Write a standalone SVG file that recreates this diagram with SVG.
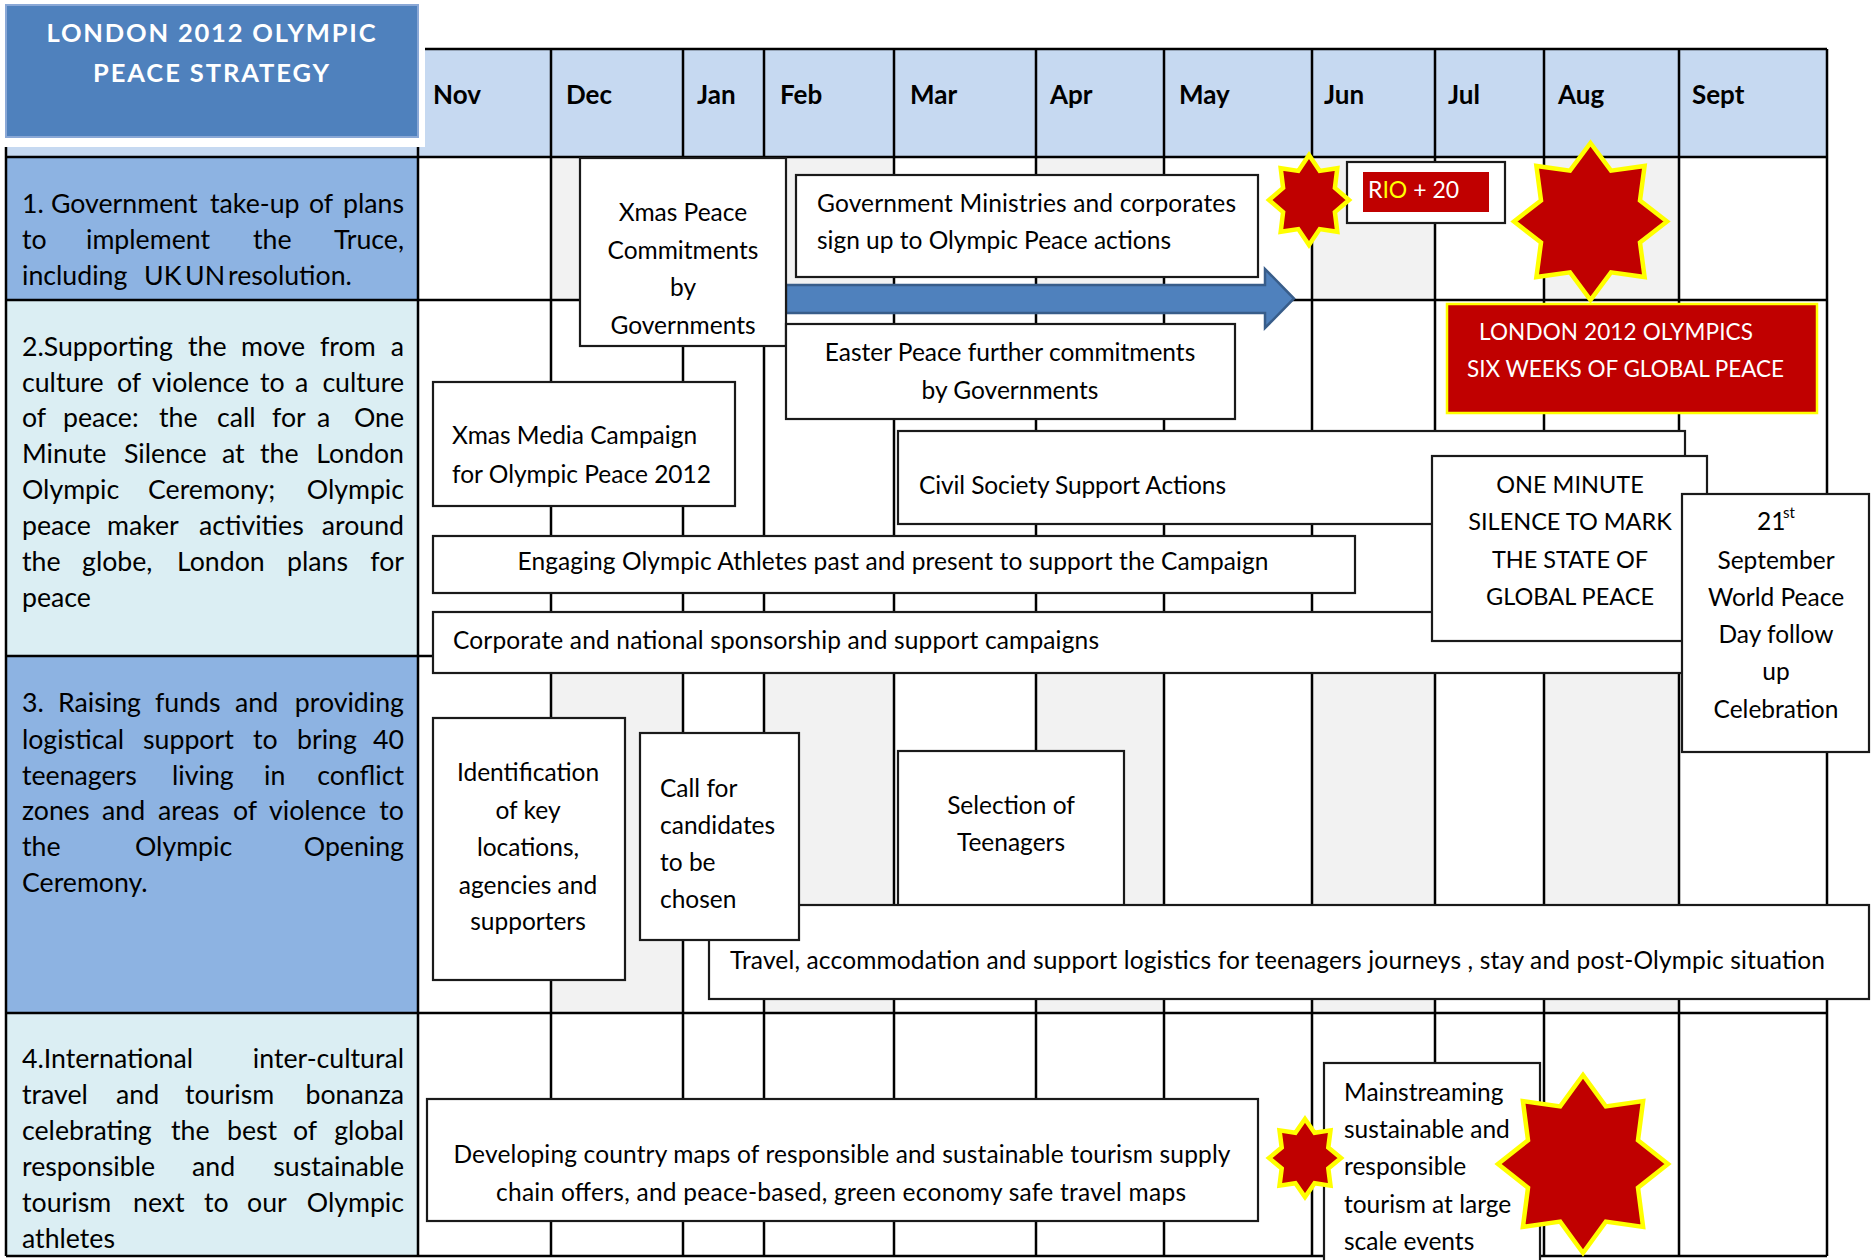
<svg xmlns="http://www.w3.org/2000/svg" width="1875" height="1260" viewBox="0 0 1875 1260">
<style>
.grid{stroke:#000;stroke-width:2.5;fill:none}
.box{fill:#fff;stroke:#1a1a1a;stroke-width:2.2}
.t{font-family:Lato,"Open Sans","Liberation Sans",sans-serif;font-size:24.5px;fill:#000}
.lc{font-family:Lato,"Open Sans","Liberation Sans",sans-serif;font-size:26.7px;fill:#000}
.mh{font-family:Lato,"Open Sans","Liberation Sans",sans-serif;font-size:26px;font-weight:bold;fill:#000}
.ttl{font-family:Lato,"Open Sans","Liberation Sans",sans-serif;font-size:25.5px;font-weight:bold;fill:#fff;text-anchor:middle}
.w{fill:#fff}
.star{fill:#C00000;stroke:#FFFF00;stroke-width:4.5}
.end{text-anchor:end}
.mid{text-anchor:middle}
.shade{fill:#F2F2F2}
</style>
<rect x="0" y="0" width="1875" height="1260" fill="#fff"/>
<g id="table">
<rect x="6" y="49" width="1821" height="108" fill="#C6D9F1"/>
<rect x="6" y="157" width="412" height="143" fill="#8DB3E2"/>
<rect x="6" y="300" width="412" height="356" fill="#DBEEF3"/>
<rect x="6" y="656" width="412" height="357" fill="#8DB3E2"/>
<rect x="6" y="1013" width="412" height="243" fill="#DBEEF3"/>
<g class="shade">
<rect x="551" y="157" width="132" height="143"/><rect x="764" y="157" width="130" height="143"/><rect x="1036" y="157" width="128" height="143"/><rect x="1312" y="157" width="123" height="143"/><rect x="1544" y="157" width="135" height="143"/>
<rect x="551" y="656" width="132" height="357"/><rect x="764" y="656" width="130" height="357"/><rect x="1036" y="656" width="128" height="357"/><rect x="1312" y="656" width="123" height="357"/><rect x="1544" y="656" width="135" height="357"/>
</g>
<path class="grid" d="M6,49H1827M6,157H1827M6,300H1827M6,656H1827M6,1013H1827M6,1256H1827M6,49V1256M418,49V1256M551,49V1256M683,49V1256M764,49V1256M894,49V1256M1036,49V1256M1164,49V1256M1312,49V1256M1435,49V1256M1544,49V1256M1679,49V1256M1827,49V1256"/>
<g class="mh">
<text x="433" y="104">Nov</text><text x="566" y="104">Dec</text><text x="697" y="104">Jan</text><text x="780" y="104">Feb</text><text x="910" y="104">Mar</text><text x="1050" y="104">Apr</text><text x="1179" y="104">May</text><text x="1324" y="104">Jun</text><text x="1448" y="104">Jul</text><text x="1558" y="104">Aug</text><text x="1692" y="104">Sept</text>
</g>
</g>
<g id="title">
<rect x="0" y="0" width="425" height="147" fill="#fff"/>
<rect x="6" y="5" width="412" height="132" fill="#4F81BD" stroke="#8AA8D6" stroke-width="2"/>
<text class="ttl" x="211" y="42" textLength="329" lengthAdjust="spacing">LONDON 2012 OLYMPIC</text>
<text class="ttl" x="211" y="82" textLength="236" lengthAdjust="spacing">PEACE STRATEGY</text>
</g>
<g id="row-labels">
<g id="label-1" class="lc">
<text y="213"><tspan x="22">1.</tspan><tspan x="51">Government</tspan><tspan x="210">take-up</tspan><tspan x="309">of</tspan></text><text class="end" x="404" y="213">plans</text>
<text y="249"><tspan x="22">to</tspan><tspan x="86">implement</tspan><tspan x="253">the</tspan></text><text class="end" x="404" y="249">Truce,</text>
<text y="285"><tspan x="22">including</tspan><tspan x="144">UK</tspan><tspan x="185">UN</tspan><tspan x="228">resolution.</tspan></text>
</g>
<g id="label-2" class="lc">
<text y="356"><tspan x="22">2.Supporting</tspan><tspan x="188">the</tspan><tspan x="241">move</tspan><tspan x="320">from</tspan></text><text class="end" x="404" y="356">a</text>
<text y="392"><tspan x="22">culture</tspan><tspan x="117">of</tspan><tspan x="152">violence</tspan><tspan x="260">to</tspan><tspan x="295">a</tspan></text><text class="end" x="404" y="392">culture</text>
<text y="427"><tspan x="22">of</tspan><tspan x="63">peace:</tspan><tspan x="159">the</tspan><tspan x="217">call</tspan><tspan x="272">for</tspan><tspan x="317">a</tspan></text><text class="end" x="404" y="427">One</text>
<text y="463"><tspan x="22">Minute</tspan><tspan x="124">Silence</tspan><tspan x="222">at</tspan><tspan x="260">the</tspan></text><text class="end" x="404" y="463">London</text>
<text y="499"><tspan x="22">Olympic</tspan><tspan x="148">Ceremony;</tspan></text><text class="end" x="404" y="499">Olympic</text>
<text y="535"><tspan x="22">peace</tspan><tspan x="107">maker</tspan><tspan x="199">activities</tspan></text><text class="end" x="404" y="535">around</text>
<text y="571"><tspan x="22">the</tspan><tspan x="82">globe,</tspan><tspan x="177">London</tspan><tspan x="287">plans</tspan></text><text class="end" x="404" y="571">for</text>
<text x="22" y="607">peace</text>
</g>
<g id="label-3" class="lc">
<text y="712"><tspan x="22">3.</tspan><tspan x="58">Raising</tspan><tspan x="155">funds</tspan><tspan x="235">and</tspan></text><text class="end" x="404" y="712">providing</text>
<text y="749"><tspan x="22">logistical</tspan><tspan x="143">support</tspan><tspan x="253">to</tspan><tspan x="297">bring</tspan></text><text class="end" x="404" y="749">40</text>
<text y="785"><tspan x="22">teenagers</tspan><tspan x="172">living</tspan><tspan x="264">in</tspan></text><text class="end" x="404" y="785">conflict</text>
<text y="820"><tspan x="22">zones</tspan><tspan x="102">and</tspan><tspan x="158">areas</tspan><tspan x="233">of</tspan><tspan x="269">violence</tspan></text><text class="end" x="404" y="820">to</text>
<text y="856"><tspan x="22">the</tspan><tspan x="135">Olympic</tspan></text><text class="end" x="404" y="856">Opening</text>
<text x="22" y="892">Ceremony.</text>
</g>
<g id="label-4" class="lc">
<text x="22" y="1068">4.International</text><text class="end" x="404" y="1068">inter-cultural</text>
<text y="1104"><tspan x="22">travel</tspan><tspan x="116">and</tspan><tspan x="185">tourism</tspan></text><text class="end" x="404" y="1104">bonanza</text>
<text y="1140"><tspan x="22">celebrating</tspan><tspan x="171">the</tspan><tspan x="227">best</tspan><tspan x="293">of</tspan></text><text class="end" x="404" y="1140">global</text>
<text y="1176"><tspan x="22">responsible</tspan><tspan x="192">and</tspan></text><text class="end" x="404" y="1176">sustainable</text>
<text y="1212"><tspan x="22">tourism</tspan><tspan x="133">next</tspan><tspan x="204">to</tspan><tspan x="247">our</tspan></text><text class="end" x="404" y="1212">Olympic</text>
<text x="22" y="1248">athletes</text>
</g>
</g>
<g id="connectors">
<path id="arrow-commitments" d="M786,285H1265V269L1294,298.5L1265,328V313H786Z" fill="#4F81BD" stroke="#385D8A" stroke-width="2.5"/>
</g>
<g id="xmas-peace">
<rect class="box" x="580" y="158" width="206" height="188"/>
<text class="t mid"><tspan x="683" y="221">Xmas Peace</tspan><tspan x="683" y="259">Commitments</tspan><tspan x="683" y="296">by</tspan><tspan x="683" y="334">Governments</tspan></text>
</g>
<g id="gov-ministries">
<rect class="box" x="796" y="175" width="462" height="102"/>
<text class="t" x="817" y="212" textLength="419" lengthAdjust="spacing">Government Ministries and corporates</text>
<text class="t" x="817" y="249" textLength="354" lengthAdjust="spacing">sign up to Olympic Peace actions</text>
</g>
<g id="easter">
<rect class="box" x="786" y="324" width="449" height="95"/>
<text class="t mid" x="1010" y="361">Easter Peace further commitments</text>
<text class="t mid" x="1010" y="399">by Governments</text>
</g>
<g id="xmas-media">
<rect class="box" x="433" y="382" width="302" height="124"/>
<text class="t" x="452" y="444">Xmas Media Campaign</text>
<text class="t" x="452" y="483">for Olympic Peace 2012</text>
</g>
<g id="corporate">
<rect class="box" x="433" y="612" width="1257" height="61"/>
<text class="t" x="453" y="649" textLength="646" lengthAdjust="spacing">Corporate and national sponsorship and support campaigns</text>
</g>
<g id="civil-society">
<rect class="box" x="898" y="431" width="787" height="93"/>
<text class="t" x="919" y="494" textLength="307" lengthAdjust="spacing">Civil Society Support Actions</text>
</g>
<g id="engaging">
<rect class="box" x="433" y="536" width="922" height="57"/>
<text class="t mid" x="893" y="570" textLength="751" lengthAdjust="spacing">Engaging Olympic Athletes past and present to support the Campaign</text>
</g>
<g id="one-minute">
<rect class="box" x="1432" y="456" width="275" height="185"/>
<text class="t mid" style="font-size:23.5px"><tspan x="1570" y="493">ONE MINUTE</tspan><tspan x="1570" y="530">SILENCE TO MARK</tspan><tspan x="1570" y="568">THE STATE OF</tspan><tspan x="1570" y="605">GLOBAL PEACE</tspan></text>
</g>
<g id="world-peace-day">
<rect class="box" x="1682" y="494" width="187" height="258"/>
<text class="t" x="1757" y="530">21</text><text class="t" x="1783" y="518" style="font-size:15px">st</text>
<text class="t mid"><tspan x="1776" y="569">September</tspan><tspan x="1776" y="606">World Peace</tspan><tspan x="1776" y="643">Day follow</tspan><tspan x="1776" y="680">up</tspan><tspan x="1776" y="718">Celebration</tspan></text>
</g>
<g id="rio20">
<rect class="box" x="1347" y="162" width="158" height="61"/>
<rect x="1363" y="172" width="126" height="40" fill="#C00000"/>
<text class="t" x="1368" y="198" style="font-size:23px"><tspan fill="#fff">R</tspan><tspan fill="#FFFF00">IO</tspan><tspan fill="#fff"> + 20</tspan></text>
</g>
<g id="london-2012">
<rect x="1447" y="304" width="370" height="109" fill="#C00000" stroke="#FFFF00" stroke-width="2.5"/>
<text class="t w" x="1479" y="340" style="font-size:22.5px" textLength="274" lengthAdjust="spacing">LONDON 2012 OLYMPICS</text>
<text class="t w" x="1467" y="377" style="font-size:22.5px" textLength="317" lengthAdjust="spacing">SIX WEEKS OF GLOBAL PEACE</text>
</g>
<g id="star-jun">
<polygon class="star" points="1309,155 1319.7,170.9 1337.3,168.2 1334.9,187.9 1349,200 1334.9,212.1 1337.3,231.8 1319.7,229.1 1309,245 1298.3,229.1 1280.7,231.8 1283.1,212.1 1269,200 1283.1,187.9 1280.7,168.2 1298.3,170.9"/>
</g>
<g id="star-aug">
<polygon class="star" stroke-width="5" points="1590.5,143 1611,170.7 1644.6,166 1640,200.5 1667,221.5 1640,242.5 1644.6,277 1611,272.3 1590.5,300 1570,272.3 1536.4,277 1541,242.5 1514,221.5 1541,200.5 1536.4,166 1570,170.7"/>
</g>
<g id="identification">
<rect class="box" x="433" y="718" width="192" height="262"/>
<text class="t mid"><tspan x="528" y="781">Identification</tspan><tspan x="528" y="819">of key</tspan><tspan x="528" y="856">locations,</tspan><tspan x="528" y="894">agencies and</tspan><tspan x="528" y="930">supporters</tspan></text>
</g>
<g id="selection">
<rect class="box" x="898" y="751" width="226" height="170"/>
<text class="t mid"><tspan x="1011" y="814">Selection of</tspan><tspan x="1011" y="851">Teenagers</tspan></text>
</g>
<g id="travel">
<rect class="box" x="709" y="905" width="1160" height="94"/>
<text class="t" x="730" y="969" textLength="1095" lengthAdjust="spacing">Travel, accommodation and support logistics for teenagers journeys , stay and post-Olympic situation</text>
</g>
<g id="call-candidates">
<rect class="box" x="640" y="733" width="159" height="207"/>
<text class="t"><tspan x="660" y="797">Call for</tspan><tspan x="660" y="834">candidates</tspan><tspan x="660" y="871">to be</tspan><tspan x="660" y="908">chosen</tspan></text>
</g>
<g id="developing">
<rect class="box" x="427" y="1099" width="831" height="122"/>
<text class="t mid" x="842" y="1163" textLength="777" lengthAdjust="spacing">Developing country maps of responsible and sustainable tourism supply</text>
<text class="t mid" x="841" y="1201" textLength="690" lengthAdjust="spacing">chain offers, and peace-based, green economy safe travel maps</text>
</g>
<g id="mainstreaming">
<rect class="box" x="1324" y="1063" width="216" height="215"/>
<text class="t"><tspan x="1344" y="1101">Mainstreaming</tspan><tspan x="1344" y="1138">sustainable and</tspan><tspan x="1344" y="1175">responsible</tspan><tspan x="1344" y="1213">tourism at large</tspan><tspan x="1344" y="1250">scale events</tspan></text>
</g>
<g id="star-jun-2">
<polygon class="star" points="1305,1119 1314.6,1132.8 1330.5,1130.4 1328.3,1147.6 1341,1158 1328.3,1168.4 1330.5,1185.6 1314.6,1183.2 1305,1197 1295.4,1183.2 1279.5,1185.6 1281.7,1168.4 1269,1158 1281.7,1147.6 1279.5,1130.4 1295.4,1132.8"/>
</g>
<g id="star-aug-2">
<polygon class="star" stroke-width="5" points="1583,1075 1605.8,1106.4 1643.1,1101.1 1638,1140.2 1668,1164 1638,1187.8 1643.1,1226.9 1605.8,1221.6 1583,1253 1560.2,1221.6 1522.9,1226.9 1528,1187.8 1498,1164 1528,1140.2 1522.9,1101.1 1560.2,1106.4"/>
</g>
</svg>
